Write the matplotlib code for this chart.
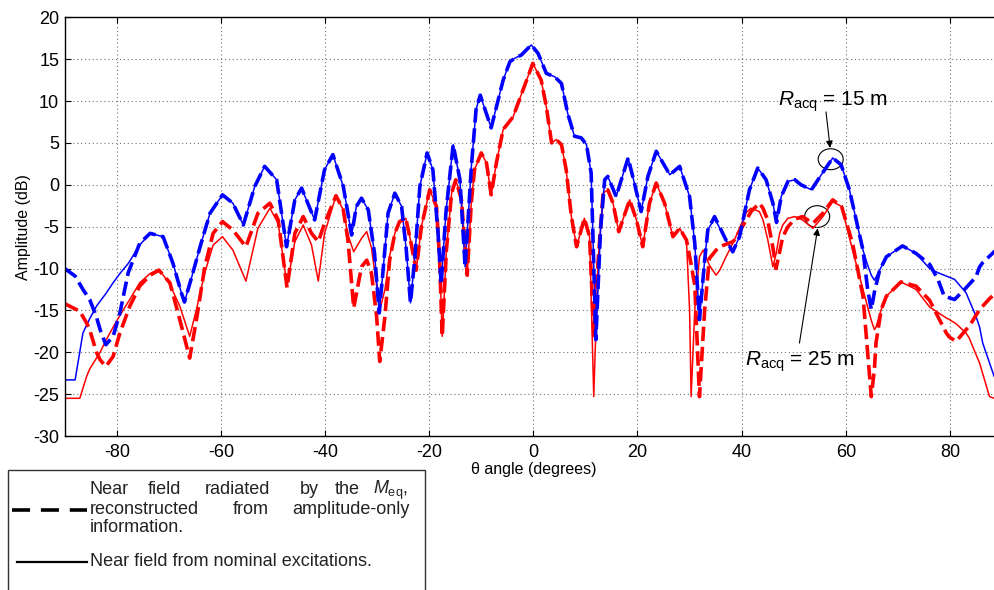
import matplotlib
matplotlib.use("Agg")
import matplotlib.pyplot as plt
from matplotlib.patches import Ellipse, Rectangle
from matplotlib.lines import Line2D

# ---- data (theta in degrees, amplitude in dB) ----
theta_blue = [-90, -88, -86.5, -85.2, -83.9, -83.2, -82.1, -80.7, -79.4, -77.8,
              -75.6, -73.6, -71.1, -69.2, -67.6, -67.0, -65.6, -64.0, -62.1, -59.7,
              -57.7, -55.7, -53.5, -51.6, -49.3, -47.4, -45.8, -44.5, -42.0, -40.1,
              -38.5, -36.5, -34.9, -34.0, -33.0, -31.7, -30.5, -29.6, -28.9, -27.9,
              -26.6, -25.3, -24.4, -23.6, -22.8, -21.8, -20.4, -19.3, -18.3, -17.7,
              -16.8, -15.4, -14.1, -13.1, -11.9, -11.0, -10.2, -8.1, -5.8, -4.5,
              -3.6, -2.3, -0.4, 0.9, 2.5, 4.1, 5.4, 6.6, 7.9, 9.2,
              10.2, 11.1, 12.0, 12.9, 13.7, 14.3, 15.9, 18.2, 19.4, 20.7,
              22.0, 23.6, 24.9, 26.2, 28.1, 30.0, 31.0, 31.9, 32.9, 33.5,
              34.8, 37.0, 38.3, 39.6, 41.5, 43.1, 44.7, 46.0, 46.7, 47.6,
              48.9, 50.2, 51.4, 53.4, 55.3, 57.5, 59.1, 60.7, 62.0, 63.3,
              64.2, 64.9, 65.5, 66.5, 67.8, 70.9, 73.5, 76.1, 77.7, 78.9,
              80.9, 83.1, 85.0, 85.7, 86.3, 88.5, 90]
blue_dashed = [-10.0, -10.9, -12.5, -13.7, -15.8, -17.3, -19.1, -18.1, -15.3, -10.5,
               -7.0, -5.8, -6.2, -9.4, -12.9, -14.0, -11.0, -7.4, -3.4, -1.2,
               -2.2, -4.8, -0.2, 2.2, 0.6, -7.4, -1.8, -0.4, -4.2, 1.8,
               3.6, -0.2, -6.0, -2.6, -1.6, -3.0, -8.2, -15.3, -10.5, -3.4,
               -1.0, -2.6, -7.8, -14.1, -9.0, -0.2, 3.8, 1.8, -5.8, -11.9,
               -3.4, 4.8, 0.6, -9.8, 2.2, 9.0, 10.7, 6.8, 12.5, 14.7,
               15.1, 15.5, 16.7, 15.7, 13.3, 12.9, 12.1, 8.5, 5.8, 5.6,
               4.8, 1.4, -18.5, -5.4, 0.6, 1.0, -1.4, 3.2, 0.2, -3.2,
               1.0, 4.0, 2.6, 1.2, 2.2, -1.4, -7.0, -16.1, -9.0, -5.4,
               -3.8, -6.6, -8.0, -6.2, -0.6, 2.0, 0.6, -2.2, -4.5, -1.4,
               0.4, 0.6, 0.0, -0.6, 1.2, 3.2, 2.4, -0.6, -4.2, -7.8,
               -12.5, -14.9, -12.8, -10.2, -8.6, -7.3, -8.2, -9.5, -11.3, -13.3,
               -13.7, -12.3, -11.0, -9.8, -9.3, -8.0, -7.5]
blue_solid = [-23.3, -23.3, -17.7, -16.0, -14.5, -13.9, -13.0, -11.7, -10.6, -9.4,
              -7.2, -5.8, -6.2, -9.4, -12.9, -14.0, -11.0, -7.4, -3.4, -1.2,
              -2.2, -4.8, -0.2, 2.2, 0.6, -7.4, -1.8, -0.4, -4.2, 1.8,
              3.6, -0.2, -6.0, -2.6, -1.6, -3.0, -8.2, -15.3, -10.5, -3.4,
              -1.0, -2.6, -7.8, -14.1, -9.0, -0.2, 3.8, 1.8, -5.8, -11.9,
              -3.4, 4.8, 0.6, -9.8, 2.2, 9.0, 10.7, 6.8, 12.5, 14.7,
              15.1, 15.5, 16.7, 15.7, 13.3, 12.9, 12.1, 8.5, 5.8, 5.6,
              4.8, 1.4, -18.5, -5.4, 0.6, 1.0, -1.4, 3.2, 0.2, -3.2,
              1.0, 4.0, 2.6, 1.2, 2.2, -1.4, -7.0, -16.1, -9.0, -5.4,
              -4.0, -6.6, -8.0, -6.2, -0.6, 2.0, 0.6, -2.2, -4.5, -1.4,
              0.4, 0.6, 0.0, -0.6, 1.2, 3.2, 2.4, -0.6, -4.2, -7.8,
              -9.6, -10.8, -11.4, -10.2, -8.6, -7.3, -8.2, -10.0, -10.5, -10.8,
              -11.3, -12.9, -15.7, -17.0, -18.9, -22.9, -23.3]

theta_red = [-90, -87.1, -85.8, -85.2, -83.9, -83.2, -82.1, -80.7, -79.4, -77.5,
             -75.6, -73.6, -71.9, -69.8, -67.9, -66.0, -64.7, -63.1, -61.5, -59.7,
             -57.7, -55.2, -52.9, -50.6, -49.0, -47.3, -45.8, -44.2, -42.6, -41.3,
             -40.1, -37.9, -36.5, -35.6, -34.5, -33.0, -32.0, -31.1, -30.1, -29.5,
             -28.5, -27.6, -26.6, -25.7, -24.5, -23.6, -22.5, -21.5, -19.9, -18.6,
             -18.0, -17.5, -16.7, -15.7, -14.9, -13.8, -12.7, -11.9, -11.3, -10.0,
             -9.0, -8.1, -7.1, -5.8, -3.9, -2.0, -0.1, 1.5, 2.5, 3.5,
             4.4, 5.4, 6.3, 7.3, 8.3, 9.8, 10.8, 11.6, 12.4, 13.4,
             14.3, 15.3, 16.4, 18.5, 19.8, 21.0, 22.3, 23.6, 25.2, 26.8,
             28.1, 29.4, 30.0, 30.3, 31.0, 31.9, 32.6, 32.9, 33.8, 35.1,
             35.8, 37.0, 38.3, 38.6, 40.9, 41.8, 43.4, 44.1, 45.0, 46.0,
             46.6, 47.3, 47.9, 48.9, 50.2, 51.7, 53.7, 55.6, 57.5, 59.2,
             61.3, 63.3, 64.9, 65.5, 65.8, 66.8, 67.8, 70.6, 73.5, 76.1,
             79.3, 79.9, 81.2, 83.1, 83.7, 85.7, 87.6, 88.5, 90]
red_dashed = [-14.2, -15.1, -16.5, -17.3, -20.0, -20.9, -21.7, -20.5, -17.7, -14.5,
              -12.1, -10.8, -10.2, -11.7, -16.1, -20.7, -16.1, -9.8, -5.8, -4.4,
              -5.4, -7.4, -3.4, -2.2, -4.2, -12.3, -5.8, -3.8, -5.8, -6.8,
              -4.6, -1.3, -3.0, -6.6, -14.7, -9.8, -9.0, -10.5, -15.7, -21.1,
              -15.7, -9.0, -5.8, -4.4, -4.0, -6.6, -10.2, -5.0, -0.6, -2.6,
              -9.0, -18.1, -7.8, -1.0, 0.6, -1.8, -10.8, -2.0, 1.8, 3.8,
              2.6, -1.2, 2.6, 6.6, 8.1, 11.3, 14.5, 12.5, 9.3, 5.0,
              5.4, 4.8, 1.8, -3.8, -7.4, -4.0, -6.2, -18.0, -9.4, -1.0,
              -0.6, -2.2, -5.6, -1.8, -4.2, -7.4, -2.2, 0.2, -2.2, -6.2,
              -5.2, -6.6, -8.5, -9.5, -12.0, -25.3, -18.0, -14.9, -8.8, -7.8,
              -7.4, -7.1, -6.8, -6.6, -4.2, -3.2, -2.2, -2.8, -4.2, -7.5,
              -10.0, -8.0, -6.2, -5.0, -4.1, -3.8, -4.6, -3.4, -1.8, -2.6,
              -7.0, -13.3, -25.3, -22.0, -18.9, -14.9, -13.3, -11.6, -12.1, -13.8,
              -17.7, -18.2, -18.7, -17.3, -16.9, -14.9, -13.6, -13.1, -12.6]
red_solid = [-25.5, -25.5, -22.9, -22.0, -20.7, -20.0, -18.6, -17.0, -15.6, -13.7,
             -11.7, -10.6, -10.1, -11.9, -14.5, -18.1, -14.9, -10.5, -7.2, -6.2,
             -7.8, -11.5, -5.2, -2.8, -4.6, -12.0, -6.8, -4.8, -7.2, -11.5,
             -5.8, -1.3, -3.0, -6.0, -8.0, -6.4, -5.6, -7.5, -12.0, -15.0,
             -12.5, -8.5, -5.8, -4.4, -4.0, -6.6, -10.2, -5.0, -0.6, -2.6,
             -9.0, -18.1, -7.8, -1.0, 0.6, -1.8, -10.8, -2.0, 1.8, 3.8,
             2.6, -1.2, 2.6, 6.6, 8.1, 11.3, 14.5, 12.5, 9.3, 5.0,
             5.4, 4.8, 1.8, -3.8, -7.4, -4.0, -6.2, -25.3, -9.4, -1.0,
             -0.6, -2.2, -5.6, -1.8, -4.2, -7.4, -2.2, 0.2, -2.2, -6.2,
             -5.2, -6.6, -14.9, -25.3, -14.9, -8.6, -7.8, -8.2, -9.6, -10.8,
             -10.2, -8.6, -7.0, -6.6, -3.3, -2.8, -3.2, -4.2, -6.5, -9.8,
             -8.3, -5.8, -4.8, -4.0, -3.8, -4.2, -5.2, -3.8, -2.0, -2.6,
             -7.8, -12.5, -16.2, -17.3, -17.0, -14.9, -13.3, -11.6, -12.5, -14.6,
             -15.9, -16.1, -16.6, -17.7, -18.3, -21.3, -25.3, -25.5, -25.5]

x_ticks = [-80, -60, -40, -20, 0, 20, 40, 60, 80]
y_ticks = [-30, -25, -20, -15, -10, -5, 0, 5, 10, 15, 20]

plt.rcParams['font.family'] = ['Liberation Sans', 'DejaVu Sans']
plt.rcParams['mathtext.fontset'] = 'custom'
plt.rcParams['mathtext.rm'] = 'Liberation Sans'
plt.rcParams['mathtext.it'] = 'Liberation Sans:italic'
plt.rcParams['mathtext.bf'] = 'Liberation Sans:bold'
plt.rcParams['axes.unicode_minus'] = False

W, H = 995, 590
fig = plt.figure(figsize=(W / 100, H / 100), dpi=100)


def fx(px):
    return px / W


def fy(py):
    return 1 - py / H


# axes run a little past the right edge of the picture, as in the reference
ax = fig.add_axes([fx(64.7), fy(436), (1002 - 64.7) / W, (436 - 17.3) / H])

dash = (0, (4, 1.6))
ax.plot(theta_red, red_solid, color='#ff0000', lw=1.1, solid_joinstyle='round')
ax.plot(theta_blue, blue_solid, color='#0000ff', lw=1.1, solid_joinstyle='round')
ax.plot(theta_red, red_dashed, color='#ff0000', lw=2.6, linestyle=dash,
        dash_joinstyle='round')
ax.plot(theta_blue, blue_dashed, color='#0000ff', lw=2.6, linestyle=dash,
        dash_joinstyle='round')

ax.set_xlim(-90, 90)
ax.set_ylim(-30, 20)
ax.set_xticks(x_ticks)
ax.set_yticks(y_ticks)
ax.grid(True, color='0.45', linestyle=(0, (1, 2.5)), lw=0.8)
ax.tick_params(direction='in', length=4, top=True, right=True, labelsize=13,
               colors='k')
ax.tick_params(axis='x', pad=6)
ax.tick_params(axis='y', pad=4)
for s in ax.spines.values():
    s.set_linewidth(1.0)

ax.set_ylabel('Amplitude (dB)', fontsize=11.5)
ax.yaxis.set_label_coords(-0.036, 0.5)
ax.set_xlabel('\u03b8 angle (degrees)', fontsize=11.5)
ax.xaxis.set_label_coords(0.5, -0.062)

# annotations
ax.add_patch(Ellipse((57.1, 3.05), 4.8, 2.5, fill=False, ec='k', lw=0.8))
ax.add_patch(Ellipse((54.5, -3.8), 4.8, 2.6, fill=False, ec='k', lw=0.8))
arrow = dict(arrowstyle='-|>', color='k', lw=0.8, mutation_scale=10,
             shrinkA=0, shrinkB=0)
ax.annotate('', xy=(57.0, 4.4), xytext=(56.2, 8.7), arrowprops=arrow)
ax.annotate('', xy=(54.6, -5.2), xytext=(51.1, -18.9), arrowprops=arrow)
ax.text(57.5, 9.4, r'$R_{\mathrm{acq}}$ = 15 m', fontsize=15, ha='center',
        va='baseline')
ax.text(51.3, -21.6, r'$R_{\mathrm{acq}}$ = 25 m', fontsize=15, ha='center',
        va='baseline')

# legend box below the axes
fig.add_artist(Rectangle((fx(8), fy(600)), (425 - 8) / W, (600 - 470) / H,
                         transform=fig.transFigure, fill=False, ec='#333333',
                         lw=1.0))
fig.add_artist(Line2D([fx(12), fx(87)], [fy(510), fy(510)], color='k', lw=2.6,
                      linestyle=(0, (5, 3)), transform=fig.transFigure))
fig.add_artist(Line2D([fx(17), fx(87)], [fy(562), fy(562)], color='k', lw=1.6,
                      transform=fig.transFigure))

legend_words = [
    (490, [(90, 'Near'), (148, 'field'), (205, 'radiated'), (300, 'by'),
           (335, 'the'), (373, r'$M_{\mathrm{eq}}$,')]),
    (510, [(90, 'reconstructed'), (233, 'from'), (292, 'amplitude-only')]),
    (528, [(90, 'information.')]),
    (562, [(90, 'Near field from nominal excitations.')]),
]
for py, words in legend_words:
    for px, w in words:
        fig.text(fx(px), fy(py), w, fontsize=13, color='#222222', ha='left',
                 va='center')

fig.savefig('out.png', dpi=100)
